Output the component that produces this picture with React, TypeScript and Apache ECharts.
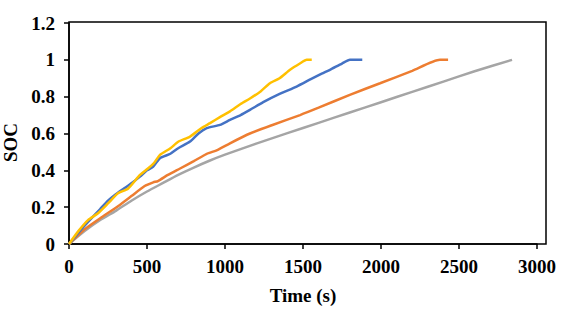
import React, { useEffect, useRef } from "react";
import * as echarts from "echarts";

const xTicks = [0, 500, 1000, 1500, 2000, 2500, 3000];
const yTicks = [0, 0.2, 0.4, 0.6, 0.8, 1, 1.2];

const yellowSeries: [number, number][] = [
  [0, 0], [60, 0.07], [122, 0.13], [186, 0.167], [250, 0.22], [314, 0.275], [378, 0.3],
  [455, 0.375], [506, 0.41], [545, 0.44], [583, 0.484], [650, 0.52], [700, 0.555],
  [776, 0.583], [850, 0.63], [904, 0.656], [970, 0.69], [1032, 0.72], [1100, 0.76],
  [1160, 0.79], [1230, 0.83], [1288, 0.873], [1350, 0.9], [1417, 0.946], [1480, 0.98],
  [1524, 1.0], [1556, 1.0],
];

const blueSeries: [number, number][] = [
  [0, 0], [100, 0.1], [200, 0.19], [250, 0.235], [300, 0.27], [350, 0.3], [400, 0.33],
  [455, 0.366], [500, 0.4], [540, 0.42], [583, 0.466], [650, 0.49], [700, 0.52],
  [776, 0.556], [830, 0.6], [883, 0.629], [968, 0.647], [1032, 0.674], [1100, 0.7],
  [1160, 0.728], [1245, 0.77], [1350, 0.815], [1459, 0.855], [1550, 0.895],
  [1620, 0.925], [1673, 0.946], [1750, 0.98], [1801, 1.0], [1880, 1.0],
];

const orangeSeries: [number, number][] = [
  [0, 0], [100, 0.08], [200, 0.14], [314, 0.205], [400, 0.26], [485, 0.315],
  [540, 0.335], [570, 0.342], [634, 0.375], [712, 0.41], [800, 0.45], [883, 0.49],
  [950, 0.51], [1032, 0.547], [1160, 0.6], [1300, 0.645], [1481, 0.7], [1600, 0.74],
  [1800, 0.81], [1994, 0.873], [2200, 0.94], [2378, 1.0], [2430, 1.0],
];

const graySeries: [number, number][] = [
  [0, 0], [100, 0.07], [200, 0.13], [300, 0.18], [400, 0.235], [500, 0.285],
  [600, 0.33], [700, 0.375], [800, 0.415], [900, 0.452], [1000, 0.485], [1200, 0.545],
  [1400, 0.602], [1600, 0.658], [1800, 0.714], [2000, 0.77], [2200, 0.826],
  [2400, 0.882], [2600, 0.938], [2840, 1.0],
];

const seriesNames = ["Yellow", "Blue", "Orange", "Gray"];
const seriesColors = ["#FFC000", "#4472C4", "#ED7D31", "#A5A5A5"];
const seriesData = [yellowSeries, blueSeries, orangeSeries, graySeries];

const FONT = "'Liberation Serif', 'Times New Roman', serif";

export default function App() {
  const ref = useRef<HTMLDivElement>(null);
  useEffect(() => {
    if (!ref.current) return;
    const chart = echarts.init(ref.current, null, { renderer: "svg" });
    const labelStyle = {
      fontFamily: FONT,
      fontWeight: "bold" as const,
      fontSize: 19,
      color: "#000",
    };
    chart.setOption({
      animation: false,
      backgroundColor: "#fff",
      grid: {
        left: 69,
        top: 23,
        right: 35,
        bottom: 70,
        containLabel: false,
        outerBoundsMode: "none",
      },
      graphic: [
        {
          type: "rect",
          shape: { x: 69, y: 22, width: 477, height: 222 },
          style: { fill: "none", stroke: "#000", lineWidth: 1.5 },
          silent: true,
        },
      ],
      xAxis: {
        type: "value",
        min: xTicks[0],
        max: xTicks[xTicks.length - 1],
        interval: 500,
        name: "Time (s)",
        nameLocation: "middle",
        nameGap: 42,
        nameTextStyle: labelStyle,
        axisLine: { show: true, lineStyle: { color: "#000", width: 1.5 } },
        axisTick: { show: true, inside: false, length: 5, lineStyle: { color: "#000", width: 1.5 } },
        axisLabel: { ...labelStyle, margin: 13, formatter: (v: number) => String(v) },
        splitLine: { show: false },
      },
      yAxis: {
        type: "value",
        min: yTicks[0],
        max: yTicks[yTicks.length - 1],
        interval: 0.2,
        name: "SOC",
        nameLocation: "middle",
        nameGap: 42,
        nameRotate: 90,
        nameTextStyle: { ...labelStyle, padding: [0, 0, 0, -18] },
        axisLine: { show: true, lineStyle: { color: "#000", width: 1.5 } },
        axisTick: { show: true, inside: false, length: 5, lineStyle: { color: "#000", width: 1.5 } },
        axisLabel: { ...labelStyle, margin: 14, formatter: (v: number) => String(parseFloat(v.toFixed(1))) },
        splitLine: { show: false },
      },
      series: seriesData.map((d, i) => ({
        name: seriesNames[i],
        type: "line",
        data: d,
        showSymbol: false,
        symbol: "none",
        smooth: 0.2,
        z: 10 - i,
        lineStyle: { color: seriesColors[i], width: 2.5 },
        itemStyle: { color: seriesColors[i] },
      })),
    });
    return () => chart.dispose();
  }, []);
  return (
    <div
      ref={ref}
      style={{ position: "fixed", left: 0, top: 0, width: 572, height: 314 }}
    />
  );
}
